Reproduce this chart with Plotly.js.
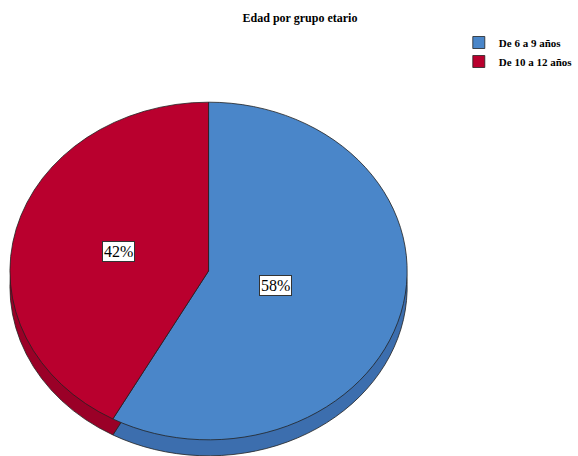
<!DOCTYPE html>
<html>
<head>
<meta charset="utf-8">
<script src="https://cdn.plot.ly/plotly-3.0.1.min.js"></script>
<style>
html,body{margin:0;padding:0;background:#fff;overflow:hidden}
#chart{width:578px;height:456px}
#chart text{font-family:"Liberation Serif","Times New Roman",serif !important}
</style>
</head>
<body>
<div id="chart"></div>
<script>
// ---- data ----
const categories = ['De 6 a 9 años', 'De 10 a 12 años'];
const values = [58, 42];
const percentLabels = ['58%', '42%'];
const topColors = ['#4a86c9', '#b9002e'];
const sideColors = ['#3c6eae', '#9a0027'];

// ---- layout geometry (pixels) ----
const W = 578, H = 456;
const CX = 210, CY = 271, RY = 170, RX = 200, DEPTH = 16;
const SX = RX / RY;
const dom = {
  x: [(CX - RY) / W, (CX + RY) / W],
  y: [1 - (CY + RY) / H, 1 - (CY - RY) / H]
};
const serif = 'Liberation Serif';
const edge = {color: '#222', width: 0.8};

const shadowTrace = {
  type: 'pie', labels: categories, values: values, sort: false,
  direction: 'clockwise', rotation: 0, domain: dom,
  marker: {colors: sideColors, line: edge},
  textinfo: 'none', hoverinfo: 'skip', showlegend: false
};
const faceTrace = {
  type: 'pie', labels: categories, values: values, sort: false,
  direction: 'clockwise', rotation: 0, domain: dom,
  marker: {colors: topColors, line: edge},
  textinfo: 'none', showlegend: true
};

// label positions derived from the slice mid-angles
const total = values.reduce((a, b) => a + b, 0);
const labelRadius = [0.35, 0.47];
let acc = 0;
const annotations = values.map((v, i) => {
  const mid = (acc + v / 2) / total * 2 * Math.PI;
  acc += v;
  const px = CX + RX * labelRadius[i] * Math.sin(mid);
  const py = CY - RY * labelRadius[i] * Math.cos(mid);
  return {
    xref: 'paper', yref: 'paper', x: px / W, y: 1 - py / H,
    xanchor: 'center', yanchor: 'middle',
    text: percentLabels[i], showarrow: false,
    font: {family: serif, size: 16, color: '#000'},
    bgcolor: '#fff', bordercolor: '#333', borderwidth: 1, borderpad: 1
  };
});

const layout = {
  width: W, height: H,
  margin: {l: 0, r: 0, t: 0, b: 0},
  paper_bgcolor: '#fff',
  font: {family: serif},
  title: {
    text: 'Edad por grupo etario', x: 300 / W, xanchor: 'center',
    y: 1 - 18 / H, yanchor: 'middle',
    font: {family: serif, size: 12, color: '#000', weight: 'bold'}
  },
  legend: {
    x: 462 / W, xanchor: 'left', y: 1 - 28 / H, yanchor: 'top',
    font: {family: serif, size: 11, color: '#000', weight: 'bold'},
    bgcolor: 'rgba(0,0,0,0)', tracegroupgap: 0, itemwidth: 30
  },
  annotations: annotations
};

Plotly.newPlot('chart', [shadowTrace, faceTrace], layout, {displayModeBar: false, staticPlot: true}).then(gd => {
  const groups = gd.querySelectorAll('.pielayer > g.trace');
  groups.forEach((g, i) => {
    const cd0 = gd.calcdata[i][0];
    const cx = cd0.cx, cy = cd0.cy;
    const dy = i === 0 ? DEPTH : 0;
    g.setAttribute('transform',
      'translate(' + cx + ',' + (cy + dy) + ') scale(' + SX + ',1) translate(' + (-cx) + ',' + (-cy) + ')');
    g.querySelectorAll('path').forEach(p => p.setAttribute('vector-effect', 'non-scaling-stroke'));
  });
});
</script>
</body>
</html>
